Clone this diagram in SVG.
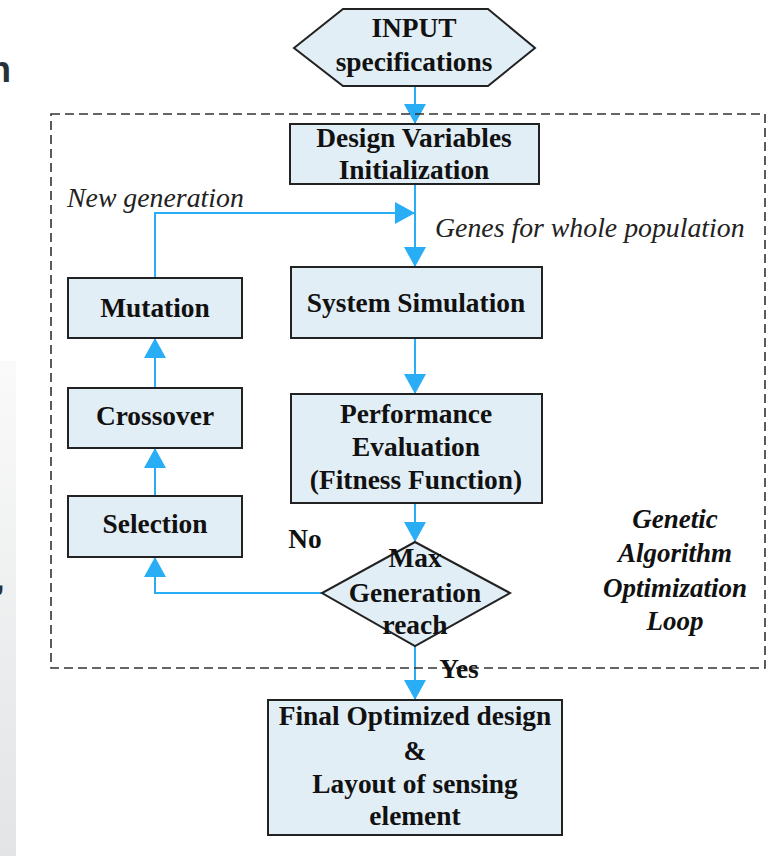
<svg xmlns="http://www.w3.org/2000/svg" width="767" height="856" viewBox="0 0 767 856">
<defs>
<linearGradient id="strip" x1="0" y1="0" x2="0" y2="1">
<stop offset="0" stop-color="#fafafa"/>
<stop offset="1" stop-color="#e2e4e5"/>
</linearGradient>
<marker id="ah" viewBox="0 0 20 22" refX="20" refY="11" markerWidth="20" markerHeight="22" markerUnits="userSpaceOnUse" orient="auto">
<path d="M0,0 L20,11 L0,22 Z" fill="#29aef6"/>
</marker>
</defs>
<style>
.box{fill:#e2eef5;stroke:#222;stroke-width:2}
.t{font-family:"Liberation Serif","Times New Roman",serif;font-weight:bold;font-size:27.4px;fill:#111;text-anchor:middle}
.i{font-family:"Liberation Serif","Times New Roman",serif;font-style:italic;font-size:27.8px;fill:#222}
.bi{font-family:"Liberation Serif","Times New Roman",serif;font-style:italic;font-weight:bold;font-size:27px;fill:#111;text-anchor:middle}
.c{fill:none;stroke:#29aef6;stroke-width:2;marker-end:url(#ah)}
.art{font-family:"Liberation Sans",Arial,sans-serif;font-weight:bold;fill:#263238}
</style>
<rect width="767" height="856" fill="#ffffff"/>
<rect x="0" y="361" width="16" height="495" fill="url(#strip)"/>
<text class="art" x="-11" y="82" font-size="36">n</text>
<text class="art" x="-4" y="590" font-size="30">,</text>

<g id="connectors">
<path class="c" d="M415,86 V124"/>
<path class="c" d="M415,184 V267"/>
<path class="c" d="M155,278 V213 H415"/>
<path class="c" d="M415,338 V394"/>
<path class="c" d="M415,503 V542"/>
<path class="c" d="M322,593 H155 V557"/>
<path class="c" d="M155,496 V448"/>
<path class="c" d="M155,388 V338"/>
<path class="c" d="M415,646 V700"/>
</g>

<g id="loop">
<rect x="51" y="114" width="714" height="554" fill="none" stroke="#333" stroke-width="1.6" stroke-dasharray="9,5"/>
<text class="bi" x="675" y="528">Genetic</text>
<text class="bi" x="675" y="562">Algorithm</text>
<text class="bi" x="675" y="597">Optimization</text>
<text class="bi" x="675" y="630">Loop</text>
</g>

<g id="input">
<polygon class="box" points="294,48 343,9 488,9 535,48 488,86 343,86"/>
<text class="t" x="414" y="37">INPUT</text>
<text class="t" x="414" y="71">specifications</text>
</g>

<g id="design">
<rect class="box" x="290" y="124" width="249" height="60"/>
<text class="t" x="414" y="147">Design Variables</text>
<text class="t" x="414" y="179">Initialization</text>
</g>

<g id="labels">
<text class="i" x="67" y="207">New generation</text>
<text class="i" x="435" y="237">Genes for whole population</text>
</g>

<g id="simulation">
<rect class="box" x="291" y="267" width="251" height="71"/>
<text class="t" x="416" y="312">System Simulation</text>
</g>

<g id="performance">
<rect class="box" x="291" y="394" width="251" height="109"/>
<text class="t" x="416" y="423">Performance</text>
<text class="t" x="416" y="456">Evaluation</text>
<text class="t" x="416" y="489">(Fitness Function)</text>
</g>

<g id="mutation">
<rect class="box" x="68" y="278" width="174" height="60"/>
<text class="t" x="155" y="317">Mutation</text>
</g>

<g id="crossover">
<rect class="box" x="68" y="388" width="174" height="60"/>
<text class="t" x="155" y="425">Crossover</text>
</g>

<g id="selection">
<rect class="box" x="68" y="496" width="174" height="61"/>
<text class="t" x="155" y="533">Selection</text>
</g>

<g id="decision">
<polygon class="box" points="415,542 510,593 415,646 322,593" stroke-width="1.6"/>
<text class="t" x="415" y="567">Max</text>
<text class="t" x="415" y="602">Generation</text>
<text class="t" x="415" y="634">reach</text>
<text class="t" x="305" y="548">No</text>
<text class="t" x="459" y="678">Yes</text>
</g>

<g id="final">
<rect class="box" x="268" y="700" width="294" height="135"/>
<text class="t" x="415" y="725">Final Optimized design</text>
<text class="t" x="415" y="760">&amp;</text>
<text class="t" x="415" y="793">Layout of sensing</text>
<text class="t" x="415" y="825">element</text>
</g>
</svg>
